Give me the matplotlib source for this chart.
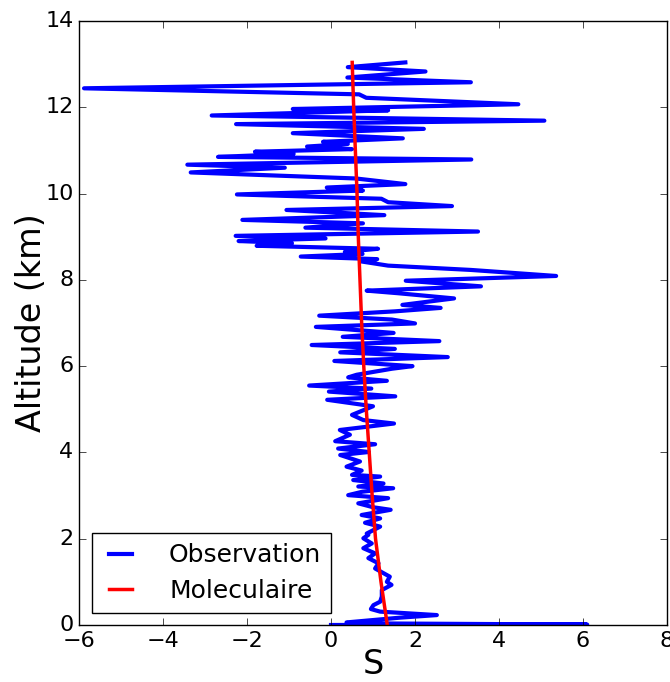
import matplotlib
matplotlib.use("Agg")
import matplotlib.pyplot as plt

# Observation profile (altitude in km, S), read from top to bottom
obs_alt = [13.04, 12.93, 12.83, 12.69, 12.58, 12.44, 12.30, 12.22, 12.07, 11.96,
           11.93, 11.81, 11.69, 11.61, 11.50, 11.40, 11.28, 11.20, 11.15, 11.09,
           11.03, 10.97, 10.92, 10.85, 10.79, 10.67, 10.60, 10.49, 10.35, 10.22,
           10.14, 10.07, 9.98, 9.88, 9.80, 9.71, 9.62, 9.50, 9.39, 9.31,
           9.21, 9.12, 9.02, 8.96, 8.90, 8.85, 8.79, 8.72, 8.65, 8.60,
           8.54, 8.48, 8.43, 8.33, 8.23, 8.09, 7.98, 7.85, 7.75, 7.69,
           7.57, 7.42, 7.35, 7.27, 7.17, 7.08, 6.99, 6.91, 6.77, 6.68,
           6.58, 6.49, 6.40, 6.32, 6.21, 6.12, 6.00, 5.94, 5.80, 5.74,
           5.66, 5.55, 5.48, 5.41, 5.30, 5.22, 5.07, 4.87, 4.75, 4.67,
           4.52, 4.41, 4.26, 4.19, 4.09, 4.01, 3.94, 3.79, 3.67, 3.58,
           3.48, 3.44, 3.36, 3.28, 3.21, 3.17, 3.09, 3.01, 2.94, 2.82,
           2.73, 2.67, 2.55, 2.47, 2.37, 2.28, 2.12, 2.09, 2.01, 1.89,
           1.78, 1.66, 1.55, 1.43, 1.31, 1.20, 1.12, 1.00, 0.93, 0.81,
           0.66, 0.54, 0.46, 0.37, 0.31, 0.23, 0.17, 0.06, 0.04, 0.01,
           0.0]
obs_S = [1.77, 0.40, 2.25, 0.39, 3.33, -5.88, 0.67, 0.84, 4.46, -0.91,
         1.36, -2.84, 5.08, -2.26, 2.21, -0.91, 1.71, -0.19, 0.40, -0.57,
         0.50, -1.81, -0.89, -2.69, 3.34, -3.42, -1.10, -3.34, 0.59, 1.77,
         -0.10, 0.76, -2.24, 1.20, 1.36, 2.88, -1.06, 1.27, -2.11, 0.76,
         -0.61, 3.50, -2.27, -0.13, -2.20, -0.93, -1.77, 1.12, 0.33, 0.75,
         -0.72, 1.10, 0.70, 1.36, 3.33, 5.36, 1.78, 3.57, 0.85, 1.60,
         2.93, 1.70, 2.61, 1.52, -0.28, 1.45, 2.00, -0.36, 1.49, 0.28,
         2.58, -0.46, 1.52, 0.22, 2.78, 0.08, 1.94, 1.45, 0.61, 0.41,
         1.33, -0.52, 0.96, -0.05, 1.53, -0.09, 1.00, 0.50, 0.77, 1.50,
         0.21, 0.45, 0.10, 1.05, 0.17, 0.90, 0.22, 0.69, 0.37, 0.73,
         0.50, 1.17, 0.53, 1.25, 0.65, 1.48, 0.75, 0.41, 1.36, 0.65,
         1.00, 1.42, 0.73, 1.17, 0.81, 1.17, 0.85, 0.89, 0.77, 0.97,
         0.77, 1.05, 0.89, 1.13, 1.05, 1.25, 1.40, 1.33, 1.44, 1.21,
         1.21, 1.17, 1.01, 0.95, 1.17, 2.52, 1.64, 0.37, 0.40, 6.10,
         0.0]

# Molecular profile
mol_alt = [0, 1, 2, 3, 4, 5, 6, 7, 8, 9, 10, 11, 12, 13.04]
mol_S = [1.34, 1.19, 1.06, 0.98, 0.91, 0.84, 0.78, 0.73, 0.69, 0.65, 0.62, 0.58, 0.54, 0.505]

labels = ["Observation", "Moleculaire"]
xticks = [-6, -4, -2, 0, 2, 4, 6, 8]
yticks = [0, 2, 4, 6, 8, 10, 12, 14]

plt.style.use("classic")
fig = plt.figure(figsize=(6.70, 6.82), dpi=100, facecolor="white")
ax = fig.add_axes([79/670, 57/682, 588/670, 604/682])
ax.set_facecolor("white")

ax.plot(obs_S, obs_alt, color="#0000ff", lw=3, label=labels[0], solid_joinstyle="round")
ax.plot(mol_S, mol_alt, color="#ff0000", lw=2.5, label=labels[1])

ax.set_xlim(-6, 8)
ax.set_ylim(0, 14)
ax.set_xticks(xticks)
ax.set_yticks(yticks)
ax.tick_params(labelsize=16, direction="in", top=True, right=True, length=5)
ax.set_xlabel("S", fontsize=24, labelpad=-2)
ax.set_ylabel("Altitude (km)", fontsize=24, labelpad=-2)

leg = ax.legend(loc="lower left", fontsize=18, frameon=True, fancybox=False,
                handlelength=1.5, handletextpad=1.2, labelspacing=0.45,
                borderaxespad=0.5, borderpad=0.4)
leg.get_frame().set_edgecolor("black")
leg.get_frame().set_linewidth(1.0)

fig.savefig("out.png", dpi=100, facecolor="white")
